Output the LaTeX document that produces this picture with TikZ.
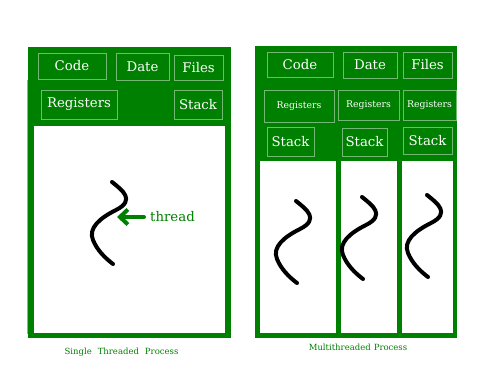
\documentclass[tikz,border=0pt]{standalone}
\usepackage{fontspec}
\setmainfont{DejaVu Serif}
\usetikzlibrary{arrows.meta}
\definecolor{gfg}{RGB}{0,128,0}
\begin{document}
\begin{tikzpicture}[x=1pt,y=-1pt,
  hbox/.style={draw=white, draw opacity=0.45, line width=1pt, inner sep=0pt, text=white, font=\fontsize{13.3}{16}\selectfont},
  smallbox/.style={hbox, font=\fontsize{9.3}{11}\selectfont},
  thr/.style={line width=4pt, line cap=round, black},
  caption/.style={text=gfg, inner sep=0pt, font=\fontsize{8.5}{10}\selectfont},
  threadline/.pic={\draw[thr] (0,0) .. controls (10,8) and (24,18) .. (4,28) .. controls (-12,36) and (-24,46) .. (-19,58) .. controls (-15,68) and (-7,76) .. (1,82);}
]
\useasboundingbox (0,0) rectangle (483,388);
\fill[white] (0,0) rectangle (483,388);

% ---- single threaded process ----
\fill[gfg] (28,47) rectangle (231,338);
\fill[white] (34,126) rectangle (225,333);
\draw[gray!70, line width=0.8pt] (27.6,80) -- (27.6,334);

\node[hbox, minimum width=68, minimum height=26] (lcode) at (72,66) {Code};
\node[hbox, minimum width=53, minimum height=27] (ldate) at (142.5,66.5) {Date};
\node[hbox, minimum width=49, minimum height=25] (lfiles) at (198.5,67.5) {Files};
\node[hbox, minimum width=76, minimum height=29] (lreg) at (79,104.5) {Registers};
\node[hbox, minimum width=48, minimum height=29] (lstack) at (198,104.5) {Stack};

\pic (lthread) at (112,182) {threadline};
\node[text=gfg, inner sep=0pt, anchor=west, font=\fontsize{13.3}{16}\selectfont] (threadlbl) at (150,217) {thread};
\coordinate (thrpt) at (117,217);
\draw[gfg, line width=4pt, line cap=round, -{Straight Barb[length=8pt,width=15pt]}] ([xshift=-6pt]threadlbl.west) -- (thrpt);

\node[caption] (lcap) at (121.5,352) {Single\hspace{6pt}Threaded\hspace{6pt}Process};

% ---- multithreaded process ----
\fill[gfg] (255,46) rectangle (457,338);
\fill[white] (260,161) rectangle (336,333);
\fill[white] (341,161) rectangle (397,333);
\fill[white] (402,161) rectangle (453,333);

\node[hbox, minimum width=66, minimum height=25] (rcode) at (300,64.5) {Code};
\node[hbox, minimum width=54, minimum height=26] (rdate) at (370,65) {Date};
\node[hbox, minimum width=49, minimum height=26] (rfiles) at (427.5,65) {Files};
\node[smallbox, minimum width=70, minimum height=32] (rreg1) at (299,106) {Registers};
\node[smallbox, minimum width=61, minimum height=30] (rreg2) at (368.5,105) {Registers};
\node[smallbox, minimum width=53, minimum height=30] (rreg3) at (429.5,105) {Registers};
\node[hbox, minimum width=47, minimum height=29] (rstack1) at (290.5,141.5) {Stack};
\node[hbox, minimum width=45, minimum height=28] (rstack2) at (364.5,142) {Stack};
\node[hbox, minimum width=49, minimum height=27] (rstack3) at (427.5,140.5) {Stack};

\pic (rthread1) at (296,201) {threadline};
\pic (rthread2) at (362,197) {threadline};
\pic (rthread3) at (427,195) {threadline};

\node[caption] (rcap) at (358,347) {Multithreaded\hspace{3pt}Process};
\end{tikzpicture}
\end{document}
